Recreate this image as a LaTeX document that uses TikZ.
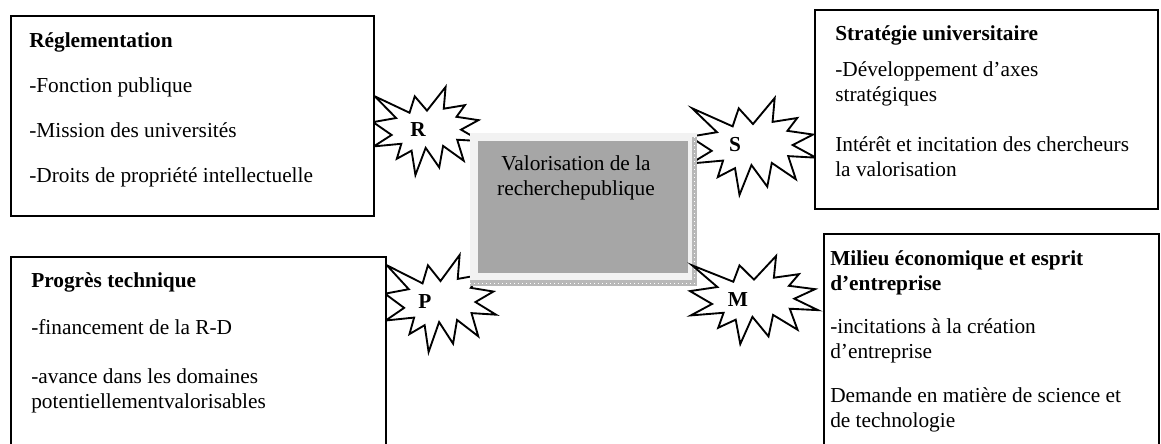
\documentclass[tikz,border=0pt]{standalone}
\usepackage{fontspec}
\setmainfont{Liberation Serif}
\usepackage{xcolor}
\usepackage{tikz}

\definecolor{frameGray}{HTML}{F2F2F2}
\definecolor{coreGray}{HTML}{A6A6A6}
\definecolor{hatchGray}{HTML}{B8B8B8}

\begin{document}
\begin{tikzpicture}
		[
			x=0.75pt,y=-0.75pt,
			every node/.style={font=\fontsize{16}{18.75}\selectfont,inner sep=0pt},
			box/.style={draw,line width=1.2pt,fill=white,anchor=north west},
			line/.style={anchor=base west,align=left},
			head/.style={line,font=\fontsize{16}{18.75}\selectfont\bfseries},
			lettre/.style={font=\fontsize{16}{18.75}\selectfont\bfseries},
			burst/.pic={
					\draw[line width=1.4pt,fill=white] (500,268.5) -- (672.3,0) -- (655.3,246.5) -- (850.9,206.3)
					-- (773.2,338.7) -- (976.7,376.7) -- (815.1,485) -- (1000,615.3) -- (779.5,599.2)
					-- (840,837.7) -- (649.1,669.3) -- (613.3,913.8) -- (487.6,691.4) -- (392.8,1000)
					-- (357.2,723.5) -- (220.5,815.6) -- (262.4,645.2) -- (6.3,675.3) -- (172.3,545.1)
					-- (0,398.8) -- (214.2,352.6) -- (17.1,106.3) -- (338.5,292.6) -- (386.7,106.3) -- cycle;
				}]
		\useasboundingbox (0,0) rectangle (1161,443);
		\clip (0,0) rectangle (1161,443);

		% explosions behind the central box
		\foreach \x/\y/\w/\h in {373/87/108/88, 690/98/126/97, 385/255/111/97}
			{
				\pic[xscale=\w/1000,yscale=\h/1000] at (\x,\y) {burst};
			}

		% central box
		\node[fill=frameGray,anchor=north west,minimum width=170.25pt,minimum height=114.75pt] (cadre) at (470,133) {};
		\node[fill=coreGray,anchor=north west,minimum width=157.5pt,minimum height=99pt] (valo) at (478,141) {};
		\fill[hatchGray] (470,280) rectangle (697,286);
		\fill[hatchGray] (692,137) rectangle (697,286);
		\draw[white,line width=0.6pt,dash pattern=on 1pt off 2pt] (470,283) -- (697,283);
		\draw[white,line width=0.6pt,dash pattern=on 1pt off 2pt] (694.5,137) -- (694.5,280);
		\node[anchor=base,align=center] (titre) at (576,195) {Valorisation de la\\recherchepublique};

		\pic[xscale=0.128,yscale=0.088] at (690,256) {burst};

		% the four boxes
		\node[box,minimum width=272.25pt,minimum height=150pt] (regl) at (10,15) {};
		\node[box,minimum width=257.25pt,minimum height=149.25pt] (strat) at (814,9) {};
		\node[box,minimum width=281.25pt,minimum height=150pt] (prog) at (10,256) {};
		\node[box,minimum width=251.25pt,minimum height=172.5pt] (milieu) at (823,233) {};

		\node[lettre] (R) at (418,130) {R};
		\node[lettre] (S) at (735,145) {S};
		\node[lettre] (P) at (425,302) {P};
		\node[lettre] (M) at (738,300) {M};

		% multi-line texts sit on the baseline of their last line
		\node[head] (regl-0) at (29,47) {Réglementation};
		\node[line] (regl-1) at (29,92) {-Fonction publique};
		\node[line] (regl-2) at (29,137) {-Mission des universités};
		\node[line] (regl-3) at (29,182) {-Droits de propriété intellectuelle};

		\node[head] (strat-0) at (835,40) {Stratégie universitaire};
		\node[line] (strat-1) at (835,101) {-Développement d’axes\\stratégiques};
		\node[line] (strat-2) at (835,176) {Intérêt et incitation des chercheurs\\la valorisation};

		\node[head] (prog-0) at (31,287) {Progrès technique};
		\node[line] (prog-1) at (31,334) {-financement de la R-D};
		\node[line] (prog-2) at (31,408) {-avance dans les domaines\\potentiellementvalorisables};

		\node[head] (milieu-0) at (830,290) {Milieu économique et esprit\\d’entreprise};
		\node[line] (milieu-1) at (830,358) {-incitations à la création\\d’entreprise};
		\node[line] (milieu-2) at (830,427) {Demande en matière de science et\\de technologie};
	\end{tikzpicture}
\end{document}
